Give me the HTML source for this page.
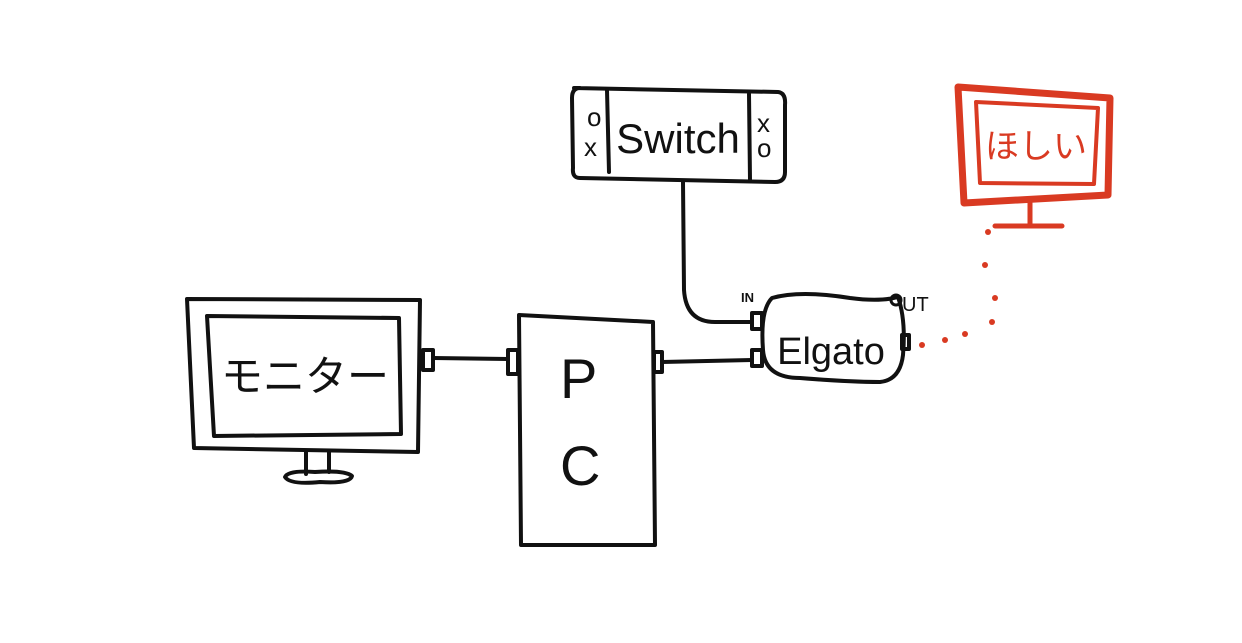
<!DOCTYPE html>
<html><head><meta charset="utf-8"><style>
html,body{margin:0;padding:0;background:#fff;}
svg{display:block;}
text{font-family:"Liberation Sans","Noto Sans CJK JP",sans-serif;}
</style></head><body>
<svg width="1242" height="643" viewBox="0 0 1242 643" xmlns="http://www.w3.org/2000/svg">
<g fill="none" stroke="#111" stroke-width="4" stroke-linejoin="round" stroke-linecap="round">
<path d="M187 299 L420 300 L418 452 L194 448 Z"/>
<path d="M207 316 L399 318 L401 434 L214 436 Z"/>
<path d="M306 452 L306 474 M329 452 L329 472"/>
<path d="M285 477 Q288 470 315 472 Q345 470 352 476 Q350 484 320 482 Q290 485 285 477 Z"/>
<rect x="423" y="350" width="10" height="20"/>
<path d="M433 358 L508 359"/>
<rect x="508" y="350" width="10" height="24"/>
<path d="M519 315 L653 322 L655 545 L521 545 Z"/>
<rect x="654" y="352" width="8" height="20"/>
<path d="M662 362 L752 360"/>
<path d="M574 88 L778 92 Q786 93 785 105 L785 172 Q785 182 775 182 L580 178 Q572 178 573 168 L572 98 Q572 88 580 88 Z"/>
<path d="M607 90 L609 172 M749 94 L750 180"/>
<path d="M683 182 L684 290 Q686 322 715 322 L752 322"/>
<path d="M772 298 Q800 290 850 298 Q880 302 898 297 Q906 320 903 355 Q900 380 880 382 Q850 382 800 378 Q765 378 763 350 Q760 310 772 298 Z"/>
<rect x="752" y="313" width="10" height="16"/>
<rect x="752" y="350" width="10" height="16"/>
<rect x="902" y="335" width="7" height="14"/>
<circle cx="896" cy="300" r="5" stroke-width="3"/>
</g>
<text x="587" y="126" font-size="26" fill="#111">o</text>
<text x="584" y="156" font-size="26" fill="#111">x</text>
<text x="757" y="132" font-size="26" fill="#111">x</text>
<text x="757" y="157" font-size="26" fill="#111">o</text>
<text x="678" y="153" font-size="42" fill="#111" text-anchor="middle">Switch</text>
<text x="560" y="398" font-size="56" fill="#111">P</text>
<text x="560" y="485" font-size="56" fill="#111">C</text>
<text x="305" y="391" font-size="42" fill="#111" text-anchor="middle">モニター</text>
<text x="831" y="364" font-size="38" fill="#111" text-anchor="middle">Elgato</text>
<text x="741" y="302" font-size="13" fill="#111" font-weight="bold">IN</text>
<text x="902" y="311" font-size="20" fill="#111">UT</text>
<g fill="none" stroke="#d93a22" stroke-linejoin="round" stroke-linecap="round">
<path d="M958 87 L1110 98 L1108 195 L964 203 Z" stroke-width="7"/>
<path d="M976 102 L1098 108 L1094 184 L980 183 Z" stroke-width="4"/>
<path d="M1030 203 L1030 224 M995 226 L1062 226" stroke-width="5"/>
</g>
<text x="1036" y="158" font-size="34" fill="#d93a22" text-anchor="middle">ほしい</text>
<g fill="#d93a22">
<circle cx="988" cy="232" r="3"/><circle cx="985" cy="265" r="3"/>
<circle cx="995" cy="298" r="3"/><circle cx="992" cy="322" r="3"/>
<circle cx="965" cy="334" r="3"/><circle cx="945" cy="340" r="3"/>
<circle cx="922" cy="345" r="3"/>
</g>
</svg>
</body></html>
